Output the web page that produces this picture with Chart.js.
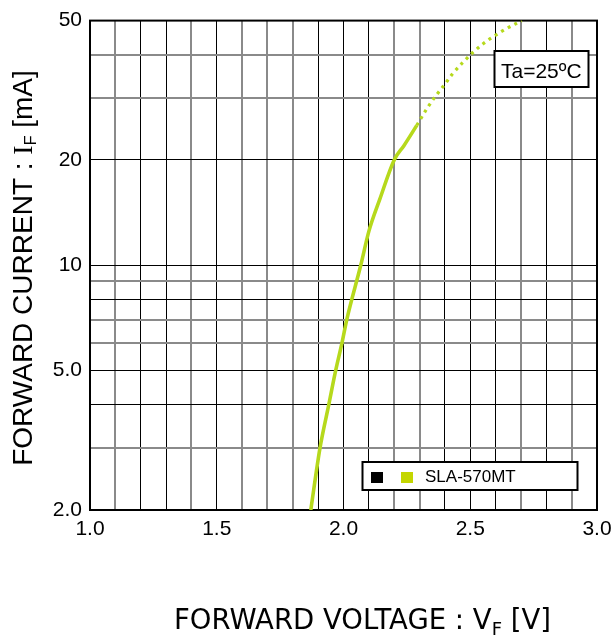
<!DOCTYPE html>
<html>
<head>
<meta charset="utf-8">
<title>Forward voltage vs forward current</title>
<script src="https://cdn.jsdelivr.net/npm/chart.js@4.4.1/dist/chart.umd.min.js"></script>
<style>
  html, body { margin: 0; padding: 0; background: #fff; }
  #wrap { width: 614px; height: 639px; position: relative; }
</style>
</head>
<body>
<div id="wrap"><canvas id="ch-vf"></canvas></div>
<script>
/* ── data ── */
const vSolid = [1.871, 1.907, 1.942, 1.969, 1.994, 2.013, 2.068, 2.100, 2.144, 2.200, 2.239, 2.289];
const iSolid = [2.0,   3.0,   4.0,   5.0,   6.0,   7.0,   10.0,  12.5,  15.5,  20.0,  22.0,  25.1];

const vDotted = [2.289, 2.330, 2.363, 2.397, 2.431, 2.470, 2.508, 2.552, 2.627, 2.703];
const iDotted = [25.1,  28.1,  30.4,  32.7,  35.3,  37.9,  40.4,  43.0,  46.7,  50.0];

const yGridVals   = [2, 3, 4, 5, 6, 7, 8, 9, 10, 20, 30, 40, 50];
const yLabelVals  = [2, 5, 10, 20, 50];
const yLabelText  = ['2.0', '5.0', '10', '20', '50'];
const xLabelVals  = [1.0, 1.5, 2.0, 2.5, 3.0];
const xLabelText  = ['1.0', '1.5', '2.0', '2.5', '3.0'];

// grid lines that look grey (anti-aliased) in the scan
const yGreyLines = [3, 6, 7, 9, 30, 40];
const xGreyLines = [1.1, 1.4, 1.6, 1.7, 1.8, 2.2, 2.3, 2.7, 2.9];

const seriesName = 'SLA-570MT';
const GREEN = '#b6d91c';
const SANS  = '"Liberation Sans", Arial, sans-serif';
const VERD  = '"DejaVu Sans", Verdana, sans-serif';

const toPts = (xs, ys) => xs.map((x, i) => ({ x, y: ys[i] }));
const near  = (list, v) => list.some(t => Math.abs(t - v) < 1e-6);

/* ── frame, boxes and axis titles ── */
const decor = {
  id: 'decor',
  beforeDatasetsDraw(chart) {
    const { ctx, chartArea: a } = chart;
    ctx.save();
    ctx.strokeStyle = '#000';
    ctx.lineWidth = 2;
    ctx.strokeRect(a.left, a.top, a.right - a.left, a.bottom - a.top);
    ctx.restore();
  },
  afterDatasetsDraw(chart) {
    const { ctx } = chart;
    ctx.save();

    // Ta box
    ctx.fillStyle = '#fff';
    ctx.strokeStyle = '#000';
    ctx.lineWidth = 2;
    ctx.fillRect(494.5, 51, 94, 36);
    ctx.strokeRect(494.5, 51, 94, 36);
    ctx.fillStyle = '#000';
    ctx.font = '21px ' + SANS;
    ctx.textBaseline = 'alphabetic';
    ctx.fillText('Ta=25ºC', 501, 78);

    // legend box
    ctx.fillStyle = '#fff';
    ctx.fillRect(362.5, 462, 215, 28);
    ctx.strokeRect(362.5, 462, 215, 28);
    ctx.fillStyle = '#000';
    ctx.fillRect(371, 472, 12, 11);
    ctx.fillStyle = '#c4d600';
    ctx.fillRect(401, 472, 12, 11);
    ctx.fillStyle = '#000';
    ctx.font = '17px ' + SANS;
    ctx.fillText(seriesName, 425, 482);

    // x title : FORWARD VOLTAGE : V_F [V]
    drawSubTitle(ctx, [
      { t: 'FORWARD VOLTAGE : V', f: '27.5px ' + VERD, dy: 0 },
      { t: 'F', f: '18px ' + VERD, dy: 6 },
      { t: ' [V]', f: '27.5px ' + VERD, dy: 0 },
    ], 362.5, 629, 0);

    // y title : FORWARD CURRENT : I_F [mA]
    drawSubTitle(ctx, [
      { t: 'FORWARD CURRENT : ', f: '28px ' + SANS, dy: 0 },
      { t: 'I', f: '28px "Liberation Serif", serif', dy: 0 },
      { t: 'F', f: '16px ' + SANS, dy: 4 },
      { t: ' [mA]', f: '28px ' + SANS, dy: 0 },
    ], 31.5, 268, -Math.PI / 2);

    ctx.restore();
  }
};

function drawSubTitle(ctx, parts, cx, cy, rot) {
  ctx.save();
  ctx.translate(cx, cy);
  ctx.rotate(rot);
  ctx.fillStyle = '#000';
  ctx.textBaseline = 'alphabetic';
  let total = 0;
  parts.forEach(p => { ctx.font = p.f; p.w = ctx.measureText(p.t).width; total += p.w; });
  let x = -total / 2;
  parts.forEach(p => { ctx.font = p.f; ctx.fillText(p.t, x, p.dy); x += p.w; });
  ctx.restore();
}

/* ── chart ── */
new Chart(document.getElementById('ch-vf'), {
  type: 'line',
  data: {
    datasets: [
      {
        label: seriesName,
        data: toPts(vSolid, iSolid),
        borderColor: GREEN, borderWidth: 3.6,
        pointRadius: 0, cubicInterpolationMode: 'monotone',
      },
      {
        label: seriesName + ' (dotted)',
        data: toPts(vDotted, iDotted),
        borderColor: GREEN, borderWidth: 3.2,
        borderDash: [3, 4.5], borderCapStyle: 'butt',
        pointRadius: 0, cubicInterpolationMode: 'monotone',
      }
    ]
  },
  options: {
    responsive: true, maintainAspectRatio: false, animation: false,
    devicePixelRatio: 1,
    layout: { padding: { top: 19, right: 17, left: 0, bottom: 0 } },
    plugins: { legend: { display: false }, tooltip: { enabled: false } },
    scales: {
      x: {
        type: 'linear', min: 1, max: 3,
        afterBuildTicks: s => {
          const t = [];
          for (let i = 0; i <= 20; i++) t.push({ value: Math.round((1 + i * 0.1) * 10) / 10 });
          s.ticks = t;
        },
        afterFit: s => { s.height = 129; s.paddingLeft = 0; s.paddingRight = 0; },
        border: { display: false },
        grid: {
          drawTicks: false,
          color: c => c.tick && near(xGreyLines, c.tick.value) ? '#8a8a8a' : '#000',
          lineWidth: c => c.tick && near(xGreyLines, c.tick.value) ? 2 : 1,
        },
        ticks: {
          autoSkip: false, maxRotation: 0, padding: 7,
          color: '#000', font: { family: SANS, size: 21 },
          callback: v => {
            const k = xLabelVals.findIndex(t => Math.abs(t - v) < 1e-6);
            return k >= 0 ? xLabelText[k] : '';
          }
        }
      },
      y: {
        type: 'logarithmic', min: 2, max: 50,
        afterBuildTicks: s => { s.ticks = yGridVals.map(v => ({ value: v })); },
        afterFit: s => { s.width = 90; },
        border: { display: false },
        grid: {
          drawTicks: false,
          color: c => c.tick && near(yGreyLines, c.tick.value) ? '#8a8a8a' : '#000',
          lineWidth: c => c.tick && near(yGreyLines, c.tick.value) ? 2 : 1,
        },
        ticks: {
          autoSkip: false, padding: 8,
          color: '#000', font: { family: SANS, size: 21 },
          callback: v => {
            const k = yLabelVals.indexOf(v);
            return k >= 0 ? yLabelText[k] : '';
          }
        }
      }
    }
  },
  plugins: [decor]
});
</script>
</body>
</html>
